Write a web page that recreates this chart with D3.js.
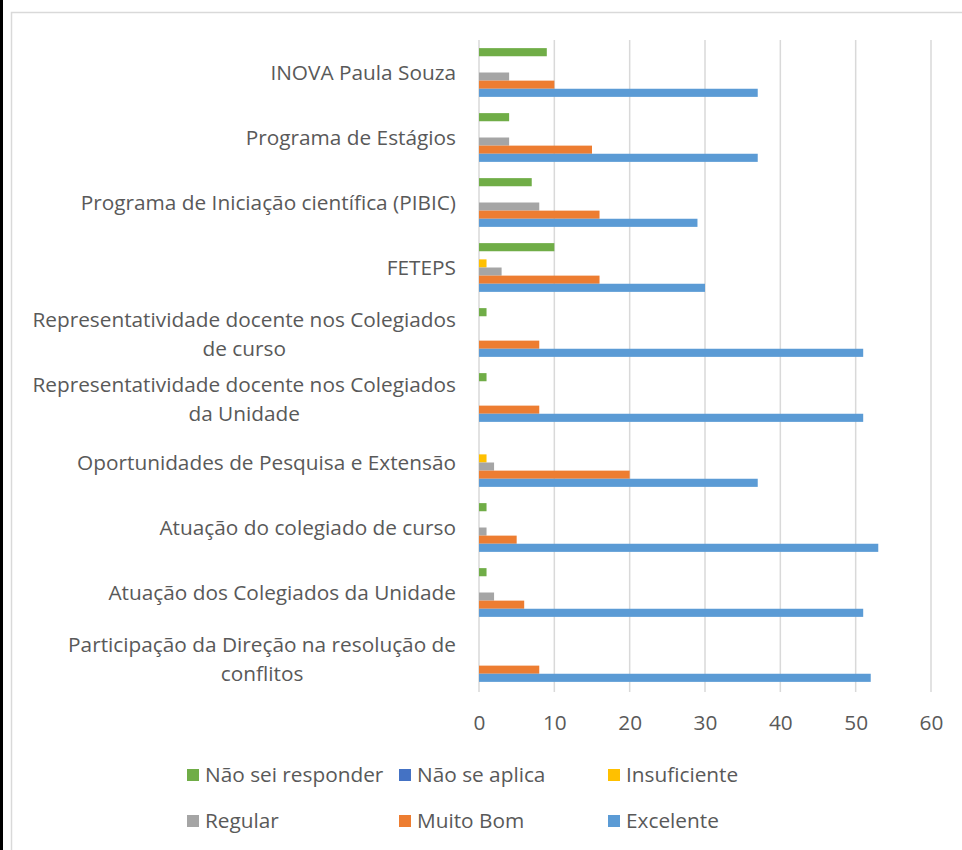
<!DOCTYPE html>
<html><head><meta charset="utf-8">
<script src="https://cdn.jsdelivr.net/npm/d3@7"></script>
<style>
html,body{margin:0;padding:0;background:#fff;}
svg{display:block;font-family:"Open Sans",Lato,sans-serif;}
</style></head>
<body>
<svg id="chart" width="962" height="850"></svg>
<script>
const categories = [
  "INOVA Paula Souza",
  "Programa de Estágios",
  "Programa de Iniciação científica (PIBIC)",
  "FETEPS",
  "Representatividade docente nos Colegiados\nde curso",
  "Representatividade docente nos Colegiados\nda Unidade",
  "Oportunidades de Pesquisa e Extensão",
  "Atuação do colegiado de curso",
  "Atuação dos Colegiados da Unidade",
  "Participação da Direção na resolução de\nconflitos"
];
const seriesNames = ["Não sei responder","Não se aplica","Insuficiente","Regular","Muito Bom","Excelente"];
const seriesColors = ["#70AD47","#4472C4","#FFC000","#A5A5A5","#ED7D31","#5B9BD5"];
const naoSeiResponder = [9,4,7,10,1,1,0,1,1,0];
const naoSeAplica     = [0,0,0,0,0,0,0,0,0,0];
const insuficiente    = [0,0,0,1,0,0,1,0,0,0];
const regular         = [4,4,8,3,0,0,2,1,2,0];
const muitoBom        = [10,15,16,16,8,8,20,5,6,8];
const excelente       = [37,37,29,30,51,51,37,53,51,52];
const seriesValues = [naoSeiResponder,naoSeAplica,insuficiente,regular,muitoBom,excelente];
const xTicks = [0,10,20,30,40,50,60];

const svg = d3.select("#chart");
const textColor = "#595959";
const fontSize = 20.8;

// frame
svg.append("rect").attr("x",11.5).attr("y",12.5).attr("width",1000).attr("height",900)
  .attr("fill","none").attr("stroke","#d9d9d9").attr("stroke-width",1.5);
svg.append("rect").attr("x",0).attr("y",0).attr("width",3).attr("height",850).attr("fill","#000");

const x = d3.scaleLinear().domain([0,60]).range([479,931]);
const y = d3.scaleBand().domain(categories).range([40,690]).padding(0);
const ys = d3.scaleBand().domain(seriesNames).range([0,y.bandwidth()]).paddingInner(0).paddingOuter(1);

// gridlines
const grid = svg.append("g");
grid.selectAll("line").data(xTicks).join("line")
  .attr("x1",d=>x(d)).attr("x2",d=>x(d)).attr("y1",40).attr("y2",692)
  .attr("stroke","#d9d9d9").attr("stroke-width",1.5);

// bars
const groups = svg.append("g").selectAll("g").data(seriesNames).join("g")
  .attr("fill",(d,i)=>seriesColors[i]);
groups.each(function(s,si){
  d3.select(this).selectAll("rect").data(categories.map((c,ci)=>({c,v:seriesValues[si][ci]})).filter(d=>d.v>0))
    .join("rect")
    .attr("x",x(0)).attr("y",d=>y(d.c)+ys(s))
    .attr("width",d=>x(d.v)-x(0)).attr("height",ys.bandwidth());
});

// x axis labels
const xAxis = d3.axisBottom(x).tickValues(xTicks).tickSize(0).tickPadding(0);
const gx = svg.append("g").attr("transform","translate(0,716)").call(xAxis);
gx.select(".domain").remove();
gx.selectAll("text").attr("fill",textColor).attr("font-size",fontSize).attr("font-family","'Open Sans',Lato,sans-serif").attr("dy","0.35em").attr("y",7);

// category labels
const labG = svg.append("g").attr("fill",textColor).attr("font-size",fontSize);
categories.forEach(c=>{
  const lines = c.split("\n");
  const cy = y(c)+y.bandwidth()/2;
  const lh = 29;
  const t = labG.append("text");
  lines.forEach((l,i)=>{
    t.append("tspan").text(l);
  });
  const tsp = t.selectAll("tspan");
  let maxW = 0;
  tsp.each(function(){ maxW = Math.max(maxW,this.getComputedTextLength()); });
  const right = 456;
  if(lines.length===1){
    t.attr("text-anchor","end");
    tsp.attr("x",right).attr("y",cy).attr("dy","0.35em");
  } else {
    t.attr("text-anchor","middle");
    const cx = right - maxW/2;
    tsp.attr("x",cx).attr("y",(d,i)=>cy + (i-(lines.length-1)/2)*lh + 2).attr("dy","0.35em");
  }
});

// legend
const legendPos = [[187,775],[399,775],[608,775],[187,821],[399,821],[608,821]];
const lg = svg.append("g").selectAll("g").data(seriesNames).join("g")
  .attr("transform",(d,i)=>`translate(${legendPos[i][0]},${legendPos[i][1]})`);
lg.append("rect").attr("x",0).attr("y",-6).attr("width",12).attr("height",12).attr("fill",(d,i)=>seriesColors[i]);
lg.append("text").attr("x",18).attr("y",0).attr("dy","0.35em").attr("fill",textColor).attr("font-size",fontSize).text(d=>d);
</script>
</body></html>
